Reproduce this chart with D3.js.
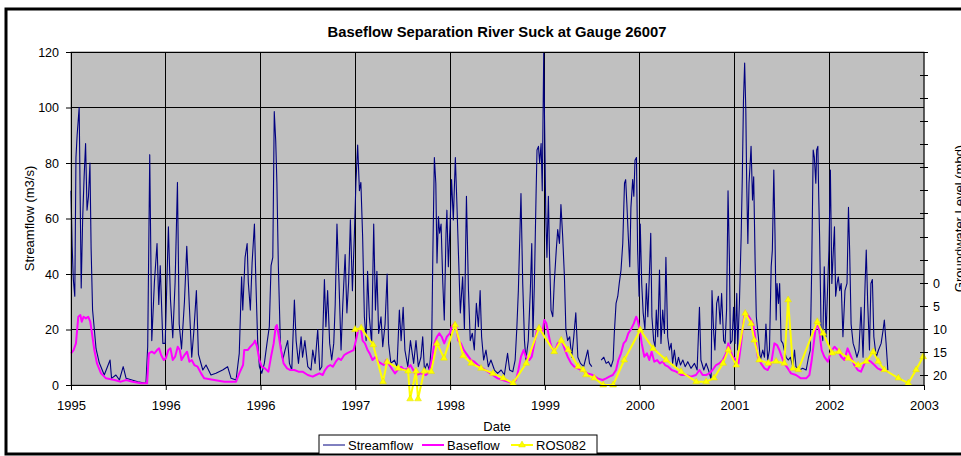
<!DOCTYPE html>
<html><head><meta charset="utf-8">
<script src="https://cdn.jsdelivr.net/npm/d3@7"></script>
<style>body{margin:0;background:#fff;} svg{display:block;font-family:"Liberation Sans",Arial,sans-serif;}</style>
</head><body><svg id="chart" width="961" height="456"></svg>
<script>
// ---- data (x = days since start of record) ----
const tickLabels = ["1995","1996","1996","1997","1998","1999","2000","2001","2002","2003"];
const tickStepDays = 325;
const leftTicks = [0,20,40,60,80,100,120];
const rightTickLabels = [0,5,10,15,20];

const streamflow = [
[0,70],[4,50],[8,38],[13,32],[17,82],[21,90],[28,100],[31,72],[35,35],[40,60],[45,75],[50,87],[55,63],[60,68],[65,80],[69,49],[74,27],[86,13],[97,8],[114,3.6],[134,9],[139,2.4],[154,3.6],[166,1.8],[179,6.6],[189,2.4],[229,1.2],[257,0.6],[263,13.8],[270,83],[277,16],[286,37],[295,51],[301,29],[306,43],[315,15],[323,15],[334,57],[341,31],[349,17],[357,37],[365,73],[371,22],[379,13],[389,30],[397,50],[406,28],[414,10],[421,19],[430,34],[437,11],[452,5.4],[463,7.2],[480,3.6],[497,4.2],[520,5.4],[537,6.6],[549,2.4],[566,1.8],[577,11.4],[585,39],
[589,27],[597,46],[604,51],[608,37],[615,27],[621,44],[629,58],[634,37],[640,16],[646,6.6],[654,4.2],[663,7.8],[672,15],[680,21],[686,43],[692,46],[697,98.5],[702,88],[706,73],[711,43],[718,15],[726,9],[734,12.6],[743,16],[749,7.8],[757,5.4],[766,30.6],[772,16],[780,7.8],[789,17.4],[794,10],[802,16],[812,6.6],[823,5.4],[829,12.6],[837,7.8],[846,20],[853,5.4],[860,6.6],[869,38],[874,21],[880,34],[887,15],[894,9],[901,15],[906,29],[912,58],[919,37],[926,12.6],[932,29],[940,47],[946,26],[952,37],[958,59.5],[965,34],[972,55],[977,73],[983,86.5],[989,70],[994,73],[1000,53.5],[1006,24.6],[1012,16],[1017,41],[1023,24.6],[1031,15],[1038,58],[1044,27],[1049,41],[1055,18.6],[1063,24.6],[1069,13.8],[1077,22],[1084,40],[1089,15],[1097,7.8],[1109,9],[1118,6.6],[1126,27],[1132,16],[1139,28],[1145,12.6],[1155,6.6],[1164,16],
[1175,7.8],[1183,16],[1191,6.6],[1200,10],[1206,17.4],[1212,5.4],[1221,7.8],[1229,5.4],[1237,16],[1241,48.6],[1246,82],[1251,72.7],[1255,44],[1260,60.7],[1264,54.7],[1269,58],[1275,36.6],[1280,23.4],[1286,54.7],[1289,63],[1294,42.6],[1300,58],[1305,74],[1311,59.5],[1318,82],[1324,63],[1329,46],[1335,26],[1343,39],[1349,20],[1356,68],[1363,34],[1369,16],[1376,18.6],[1383,12.6],[1390,29.4],[1397,21],[1403,34],[1408,17.4],[1415,9],[1423,12.6],[1431,6.6],[1440,9],[1452,5.4],[1463,4.2],[1475,5.4],[1486,3.6],[1497,11.4],[1504,5.4],[1515,4.8],[1523,9],[1529,21],[1534,34],[1539,53.5],[1543,69],[1549,36.6],[1555,16],[1560,9],[1568,16],[1575,34],[1580,51],[1584,17.4],[1589,36.6],[1595,70],[1598,84.7],[1603,86],[1607,80],[1612,87],[1616,70],[1621,119.5],[1624,94],[1628,62],[1632,46],[1637,68],[1641,46],[1646,27],[1652,24.6],[1657,36.6],[1664,48.6],[1669,56],[1675,51],[1680,65],[1686,53.5],[1692,39],[1697,20],[1703,16],[1710,17.4],[1717,10],[1724,17.4],[1731,26],[1738,10],[1747,7.8],
[1758,6.6],[1766,10],[1772,12.6],[1778,7.8],[1786,6.6],null,[1818,9],[1827,10],[1835,7.8],[1843,8.4],[1852,6.6],[1859,9],[1863,18.6],[1869,29.4],[1875,32],[1880,36.6],[1886,41.4],[1892,51],[1898,72.7],[1902,74],[1906,65.5],[1911,53.5],[1916,42.6],[1920,64],[1926,74],[1930,68],[1934,81],[1939,82],[1943,48.6],[1948,32],[1952,58],[1957,36.6],[1962,26],[1968,20],[1973,36.6],[1978,24.6],[1983,39],[1988,54.7],[1992,24.6],[1998,16],[2003,13.8],[2007,27],[2012,17.4],[2018,41.4],[2023,15],[2029,27],[2035,18.6],[2040,46],[2046,17.4],[2052,12.6],[2058,15],[2063,7.8],[2069,12.6],[2076,6.6],[2083,10],[2090,7.2],[2098,9],[2106,6.6],[2115,8.4],[2126,6],[2138,7.8],[2147,5.4],[2155,28],[2160,9],[2170,5.4],[2178,7.8],[2186,5.4],[2195,2],[2198,34],[2204,18.6],[2208,12.6],[2214,29.4],[2220,32],[2226,22],[2231,33],[2238,16],[2243,15],[2248,27],[2253,70],[2258,44],[2261,15],[2267,16],[2272,28],[2277,15],[2283,33],[2286,12.6],[2292,29.4],[2298,53.5],[2302,75],[2306,102.7],[2310,116],[2314,99],[2317,72.7],[2321,51],[2325,72.7],[2330,82],
[2332,86],[2337,66.7],[2341,75],[2346,44],[2350,24.6],[2357,17.4],[2364,9],[2372,12.6],[2378,10],[2383,22],[2389,9],[2395,12.6],[2401,42.6],[2405,48.6],[2410,77.5],[2414,54.7],[2418,23.4],[2421,36.6],[2426,29.4],[2430,36.6],[2435,16],[2441,15],[2446,12.6],[2452,10],[2460,9],[2467,10],[2475,6.6],[2481,12.6],[2486,6.6],[2498,5.4],[2509,6],[2521,5.4],[2529,10],[2535,12.6],[2540,42.6],[2545,84.7],[2549,82],[2554,72.7],[2557,84.7],[2561,86],[2564,68],[2567,53.5],[2572,21],[2578,16],[2583,42.6],[2589,17.4],[2595,36.6],[2599,48.6],[2604,77.5],[2609,36.6],[2613,46],[2618,57],[2622,32],[2627,36.6],[2631,39],[2636,34],[2641,36.6],[2647,17.4],[2654,34],[2661,36.6],[2666,64],[2670,48.6],[2675,22],[2682,15],[2689,12.6],[2695,10],[2702,12.6],[2709,28],[2716,10],[2723,36.6],[2727,48.6],[2732,29.4],[2738,12.6],[2743,36.6],[2748,38],[2753,17.4],[2761,10],[2769,12.6],[2778,15],[2785,20],[2789,23.4],[2795,15],[2801,5.4]
];

const baseflow = [
[0,11.4],[9,12.6],[17,15],[25,24.6],[32,25.2],[37,22.8],[43,24.6],[51,24],[59,24.6],[66,22.8],[72,18.6],[80,12.6],[89,7.8],[103,4.2],[120,2.4],[149,1.8],[171,1.2],[189,1.8],[211,1.2],[240,0.6],[261,0.6],[267,11.4],[277,12],[286,11.4],[295,12.6],[302,13.2],[309,10.8],[318,9],[325,9.6],[334,12.6],[341,13.2],[349,9],[357,10.2],[366,13.8],[373,12.6],[379,9],[389,10.8],[398,12],[406,8.4],[414,9],[423,7.2],[434,6.6],[446,4.2],[457,2.4],[491,1.8],[526,1.2],[549,1.2],[566,1.2],[577,4.2],[590,7.2],
[594,12.6],[606,12.6],[615,13.8],[626,15],[631,16],[638,13.8],[646,9],[654,6.6],[665,6],[677,4.8],[686,10.2],[695,15],[702,21],[706,21.6],[713,17.4],[720,12.6],[729,7.8],[741,6],[752,5.4],[766,5.4],[780,4.8],[794,4.8],[812,3.6],[829,3],[840,3.6],[852,4.2],[863,3.6],[871,5.4],[880,6.6],[889,7.2],[898,6.6],[908,8.4],[917,9.6],[926,9],[937,10.8],[946,11.4],[958,12],[969,12.6],[977,16],[985,20],[994,20.4],[1000,16],[1008,15],[1017,12.6],[1024,11.4],[1034,9],[1045,10.2],[1054,8.4],[1063,7.8],[1072,7.2],[1081,9],[1092,7.2],[1103,5.4],[1111,4.2],[1120,5.4],[1132,6.6],[1143,5.4],[1155,6],[1164,7.2],
[1183,3.6],[1200,4.2],[1217,3.6],[1229,4.8],[1237,9],[1246,15],[1255,17.4],[1263,18.6],[1271,17.4],[1280,15],[1289,17.4],[1299,18.6],[1305,21],[1315,22.2],[1321,21],[1328,16],[1337,15],[1347,12.6],[1355,11.4],[1363,10.2],[1372,9],[1383,8.4],[1395,7.2],[1412,6],[1429,4.8],[1446,3.6],[1463,2.4],[1480,1.8],[1497,1.2],[1515,0.6],[1526,1.8],[1534,5.4],[1543,10.2],[1552,12.6],[1560,10.2],[1572,9],[1580,10.2],[1589,15],[1598,20],[1607,21],[1616,18.6],[1623,23.4],[1630,22.2],[1637,18.6],[1644,15],[1652,12.6],[1660,12.6],[1669,15],[1678,16],[1686,15],[1694,12.6],[1703,10.2],[1715,7.8],[1726,6.6],[1738,6],[1749,5.4],
[1760,4.8],[1772,4.2],[1789,3.6],[1806,2.4],[1823,1.8],[1835,2.4],[1846,3],[1858,3.6],[1869,5.4],[1877,9],[1886,11.4],[1895,15],[1903,16],[1911,18.6],[1920,20],[1930,22.2],[1938,24.6],[1943,23.4],[1950,20],[1957,15],[1966,10.2],[1975,11.4],[1983,9],[1991,12],[2000,8.4],[2010,9],[2019,7.8],[2029,8.4],[2037,7.2],[2048,6.6],[2060,5.4],[2075,4.8],[2092,3.6],[2109,3.6],[2126,3],[2143,3.6],[2155,5.4],[2166,3.6],[2178,3.6],[2189,4.2],[2200,5.4],[2212,7.2],[2223,7.8],[2235,9],[2246,11.4],[2254,15],[2261,12.6],[2269,10.2],[2281,9],[2289,7.8],[2298,15],[2305,22.2],[2311,26.4],[2318,25.8],[2325,24.6],[2332,23.4],
[2339,22.2],[2346,17.4],[2355,10.2],[2366,7.8],[2378,6],[2389,5.4],[2401,7.8],[2412,15],[2421,14.4],[2429,12.6],[2437,10.2],[2446,7.8],[2458,6],[2469,4.2],[2486,3.6],[2503,2.4],[2521,2.4],[2532,3.6],[2540,9],[2547,15],[2554,21],[2561,22.2],[2567,18.6],[2574,12.6],[2583,10.2],[2595,8.4],[2606,12],[2618,13.8],[2629,12.6],[2641,10.2],[2652,9],[2663,13.2],[2675,10.2],[2686,7.2],[2698,5.4],[2709,4.8],[2721,7.8],[2732,9],[2743,8.4],[2755,7.2],[2766,6],[2778,5.4],[2789,5.4],[2801,4.8]
];

// groundwater level (m below datum), secondary axis
const ros082 = [
[974,10],[995,9.7],[1036,13.3],[1070,21.3],[1084,17],[1122,18.4],[1156,19],[1163,25],[1183,19],[1190,25],[1211,19],[1235,19.1],[1255,13],[1279,16.2],[1317,9],[1345,15.7],[1372,17.3],[1406,18.4],[1447,19.5],[1482,20.5],[1516,21.6],[1561,17.3],[1605,9.7],[1657,14.8],[1681,12.3],[1705,14.4],[1739,18],[1756,18.7],[1766,19.8],[1794,20.5],[1825,22],[1859,22],[1897,16.6],[1952,10.1],[1996,14.1],[2041,16.6],[2092,19.1],[2144,21.3],[2178,21.3],[2205,20.5],[2236,17.3],[2254,14.4],[2281,17.7],[2312,6.5],[2332,8.7],[2343,12.3],[2360,16.6],[2391,17.3],[2418,16.9],[2446,17.3],[2459,3.6],[2476,18.4],[2494,18.7],[2559,8.3],[2579,10.8],[2610,15.1],[2634,14.8],[2665,16.2],[2699,17.7],[2727,16.9],[2751,14.8],[2768,16.9],[2789,18.7],[2837,20.5],[2871,21.6],[2898,18.7],[2922,15.9]
];

// ---- layout ----
const W = 961, H = 456;
const P = {l:71, r:924, t:52, b:385};
const svg = d3.select("#chart");
const nTicks = tickLabels.length;
const x = d3.scaleLinear().domain([0, tickStepDays*(nTicks-1)]).range([P.l, P.r]);
const y = d3.scaleLinear().domain([0, 120]).range([P.b, P.t]);
const y2 = d3.scaleLinear().domain([-50, 22]).range([P.t, P.b]);
const tickDays = tickLabels.map((_, i) => i*tickStepDays);
const FF = "Liberation Sans, Arial, sans-serif";

svg.append("rect").attr("width", W).attr("height", H).attr("fill", "#fff");
svg.append("rect").attr("x", 6).attr("y", 9).attr("width", W+10).attr("height", 445)
  .attr("fill", "none").attr("stroke", "#000").attr("stroke-width", 3);

// title
svg.append("text").attr("x", 497).attr("y", 37).attr("text-anchor", "middle")
  .attr("font-size", 14.8).attr("font-weight", "bold").text("Baseflow Separation River Suck at Gauge 26007");

// plot area
svg.append("rect").attr("x", P.l).attr("y", P.t).attr("width", P.r-P.l).attr("height", P.b-P.t)
  .attr("fill", "#c0c0c0").attr("stroke", "#808080");

// gridlines
svg.append("g").selectAll("line").data(leftTicks.filter(v => v > 0)).join("line")
  .attr("x1", P.l).attr("x2", P.r).attr("y1", d => y(d)).attr("y2", d => y(d))
  .attr("stroke", "#000").attr("stroke-width", 1).attr("shape-rendering", "crispEdges");
svg.append("g").selectAll("line").data(tickDays.slice(1, -1)).join("line")
  .attr("x1", d => x(d)).attr("x2", d => x(d)).attr("y1", P.t).attr("y2", P.b)
  .attr("stroke", "#000").attr("stroke-width", 1).attr("shape-rendering", "crispEdges");

// series
const lineL = d3.line().defined(d => d).x(d => x(d[0])).y(d => y(d[1]));
svg.append("path").datum(streamflow).attr("d", lineL).attr("fill", "none")
  .attr("stroke", "#000080").attr("stroke-width", 1.1).attr("stroke-linejoin", "round");
svg.append("path").datum(baseflow).attr("d", lineL).attr("fill", "none")
  .attr("stroke", "#ff00ff").attr("stroke-width", 2).attr("stroke-linejoin", "round");
const lineR = d3.line().x(d => x(d[0])).y(d => y2(d[1]));
svg.append("path").datum(ros082).attr("d", lineR).attr("fill", "none")
  .attr("stroke", "#ffff00").attr("stroke-width", 2).attr("stroke-linejoin", "round");
const tri = d3.symbol().type(d3.symbolTriangle).size(20);
svg.append("g").selectAll("path").data(ros082).join("path")
  .attr("d", tri).attr("transform", d => `translate(${x(d[0])},${y2(d[1])})`)
  .attr("fill", "#ffff00").attr("stroke", "#e0e000").attr("stroke-width", 0.5);

// left axis
const gL = svg.append("g").attr("transform", `translate(${P.l},0)`)
  .call(d3.axisLeft(y).tickValues(leftTicks).tickSize(5).tickPadding(7));
gL.select(".domain").attr("stroke", "#000");
gL.selectAll("text").attr("font-size", 12.5).attr("fill", "#000").attr("font-family", FF);

// bottom axis
const gB = svg.append("g").attr("transform", `translate(0,${P.b})`)
  .call(d3.axisBottom(x).tickValues(tickDays).tickFormat((d, i) => tickLabels[i]).tickSize(5).tickPadding(11));
gB.select(".domain").attr("stroke", "#000");
gB.selectAll("text").attr("font-size", 13).attr("fill", "#000").attr("font-family", FF);

// right axis (reversed, cross ticks, labels 0..20 only)
const rTicks = d3.range(-50, 21, 5);
const gR = svg.append("g");
gR.append("line").attr("x1", P.r).attr("x2", P.r).attr("y1", P.t).attr("y2", P.b).attr("stroke", "#000");
gR.selectAll("line.t").data(rTicks).join("line").attr("class", "t")
  .attr("x1", P.r-4).attr("x2", P.r+4).attr("y1", d => y2(d)).attr("y2", d => y2(d))
  .attr("stroke", "#000").attr("shape-rendering", "crispEdges");
gR.selectAll("text").data(rightTickLabels).join("text")
  .attr("x", P.r+9).attr("y", d => y2(d)).attr("dy", "0.36em")
  .attr("font-size", 12.5).text(d => d);

// axis titles
svg.append("text").attr("transform", `translate(34,${(P.t+P.b)/2}) rotate(-90)`)
  .attr("text-anchor", "middle").attr("font-size", 13).text("Streamflow (m3/s)");
svg.append("text").attr("transform", `translate(964,${(P.t+P.b)/2}) rotate(-90)`)
  .attr("text-anchor", "middle").attr("font-size", 13).text("Groundwater Level (mbd)");
svg.append("text").attr("x", 497).attr("y", 431).attr("text-anchor", "middle")
  .attr("font-size", 13).text("Date");

// legend
const lg = svg.append("g");
lg.append("rect").attr("x", 319).attr("y", 435).attr("width", 278).attr("height", 19)
  .attr("fill", "#fff").attr("stroke", "#000");
const items = [
  {name: "Streamflow", color: "#000080", w: 1, x: 323, tri: false},
  {name: "Baseflow", color: "#ff00ff", w: 2, x: 422, tri: false},
  {name: "ROS082", color: "#ffff00", w: 2, x: 511, tri: true}
];
items.forEach(it => {
  lg.append("line").attr("x1", it.x).attr("x2", it.x+22).attr("y1", 445).attr("y2", 445)
    .attr("stroke", it.color).attr("stroke-width", it.w);
  if (it.tri) lg.append("path").attr("d", tri).attr("transform", `translate(${it.x+11},445)`)
    .attr("fill", "#ffff00").attr("stroke", "#e0e000").attr("stroke-width", 0.5);
  lg.append("text").attr("x", it.x+25).attr("y", 449.5).attr("font-size", 13).text(it.name);
});
</script></body></html>
